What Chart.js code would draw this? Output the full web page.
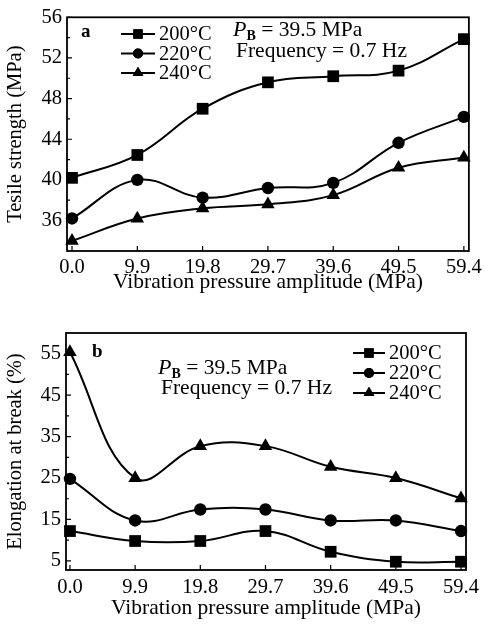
<!DOCTYPE html>
<html>
<head>
<meta charset="utf-8">
<script src="https://cdn.jsdelivr.net/npm/chart.js@4.4.1/dist/chart.umd.min.js"></script>
<style>
  html, body { margin: 0; padding: 0; background: #fff; }
  #wrap { position: relative; width: 486px; height: 624px; overflow: hidden; }
  canvas { position: absolute; left: 0; }
  #c1 { top: 0; }
  #c2 { top: 300px; }
</style>
</head>
<body>
<div id="wrap">
  <canvas id="c1" width="486" height="300"></canvas>
  <canvas id="c2" width="486" height="324"></canvas>
</div>
<script>
// ---- data ----
const xValues = [0, 9.9, 19.8, 29.7, 39.6, 49.5, 59.4];
const seriesNames = ['200°C', '220°C', '240°C'];
const tensile200 = [40.2, 42.45, 47.0, 49.6, 50.2, 50.75, 53.85];
const tensile220 = [36.2, 40.0, 38.25, 39.2, 39.7, 43.65, 46.2];
const tensile240 = [34.0, 36.2, 37.2, 37.6, 38.5, 41.2, 42.2];
const elong200 = [12.2, 9.8, 9.8, 12.2, 7.2, 4.8, 4.8];
const elong220 = [24.8, 14.75, 17.4, 17.4, 14.75, 14.75, 12.2];
const elong240 = [55.4, 25.0, 32.7, 32.7, 27.7, 25.0, 20.1];
const tensileTicks = [36, 40, 44, 48, 52, 56];
const tensileMinor = [34, 38, 42, 46, 50, 54];
const elongTicks = [5, 15, 25, 35, 45, 55];
const elongMinor = [10, 20, 30, 40, 50];

const FONT = '"Liberation Serif", "Times New Roman", serif';
const styles = ['rect', 'circle', 'triangle'];
const radii = [8.3, 6.2, 7.8];

function makeDatasets(arrs) {
  return arrs.map((arr, i) => ({
    label: seriesNames[i],
    data: xValues.map((x, j) => ({ x: x, y: arr[j] })),
    borderColor: '#000',
    backgroundColor: '#000',
    borderWidth: 2,
    pointStyle: styles[i],
    pointRadius: radii[i],
    pointBorderWidth: 0,
    tension: 0.4,
    clip: false
  }));
}

const decorPlugin = {
  id: 'decor',
  afterDraw(chart, args, opts) {
    const ctx = chart.ctx;
    const a = chart.chartArea;
    const xs = chart.scales.x, ys = chart.scales.y;
    ctx.save();
    ctx.strokeStyle = '#000';
    ctx.fillStyle = '#000';
    // frame
    ctx.lineWidth = 1.8;
    ctx.strokeRect(a.left, a.top, a.right - a.left, a.bottom - a.top);
    // inward ticks
    ctx.lineWidth = 1.2;
    ctx.beginPath();
    xs.ticks.forEach(t => {
      const px = xs.getPixelForValue(t.value);
      ctx.moveTo(px, a.bottom); ctx.lineTo(px, a.bottom - 5);
    });
    ys.ticks.forEach(t => {
      const py = ys.getPixelForValue(t.value);
      ctx.moveTo(a.left, py); ctx.lineTo(a.left + 5, py);
    });
    (opts.minor || []).forEach(v => {
      const py = ys.getPixelForValue(v);
      ctx.moveTo(a.left, py); ctx.lineTo(a.left + 3, py);
    });
    ctx.stroke();

    // panel letter
    ctx.textBaseline = 'middle';
    ctx.textAlign = 'left';
    ctx.font = 'bold 19px ' + FONT;
    ctx.fillText(opts.letter.text, opts.letter.x, opts.letter.y);

    // P_B and frequency
    const p = opts.pb;
    let x = p.x;
    ctx.font = 'italic 22px ' + FONT;
    ctx.fillText('P', x, p.y);
    x += ctx.measureText('P').width;
    ctx.font = 'bold 14px ' + FONT;
    ctx.fillText('B', x, p.y + 6);
    x += ctx.measureText('B').width;
    ctx.font = '21.5px ' + FONT;
    ctx.fillText(' = 39.5 MPa', x, p.y);
    ctx.fillText('Frequency = 0.7 Hz', p.x + 3, p.y + p.gap);

    // legend
    const L = opts.legend;
    chart.data.datasets.forEach((ds, i) => {
      const y = L.y + i * L.gap;
      ctx.lineWidth = 2;
      ctx.beginPath();
      ctx.moveTo(L.x, y); ctx.lineTo(L.x + L.len, y);
      ctx.stroke();
      Chart.helpers.drawPoint(ctx, { pointStyle: ds.pointStyle, radius: ds.pointRadius * 0.8, borderWidth: 0 },
        L.x + L.len / 2, y);
      ctx.fill();
      ctx.font = '20.5px ' + FONT;
      ctx.fillText(ds.label, L.x + L.len + 4, y + 1);
    });
    ctx.restore();
  }
};

function makeChart(id, arrs, yMin, yMax, yTicks, yTitle, xMin, xMax, sizes, notes) {
  return new Chart(document.getElementById(id), {
    type: 'line',
    data: { datasets: makeDatasets(arrs) },
    options: {
      responsive: false,
      animation: false,
      devicePixelRatio: 1,
      layout: { padding: { top: sizes.top, right: sizes.right, left: 0, bottom: 0 } },
      plugins: { legend: { display: false }, tooltip: { enabled: false }, decor: notes },
      scales: {
        x: {
          type: 'linear', min: xMin, max: xMax,
          afterBuildTicks: s => { s.ticks = xValues.map(v => ({ value: v })); },
          afterFit: s => { s.height = sizes.xh; },
          grid: { display: false, drawTicks: false },
          border: { display: false },
          ticks: { color: '#000', padding: sizes.xpad, maxRotation: 0, autoSkip: false,
                   font: { family: FONT, size: 20.5 }, callback: v => Number(v).toFixed(1) },
          title: { display: true, text: 'Vibration pressure amplitude (MPa)', color: '#000',
                   font: { family: FONT, size: 21.5 }, padding: { top: 0, bottom: sizes.xtp } }
        },
        y: {
          type: 'linear', min: yMin, max: yMax,
          afterBuildTicks: s => { s.ticks = yTicks.map(v => ({ value: v })); },
          afterFit: s => { s.width = sizes.yw; },
          grid: { display: false, drawTicks: false },
          border: { display: false },
          ticks: { color: '#000', padding: 5, autoSkip: false, font: { family: FONT, size: 20.5 } },
          title: { display: true, text: yTitle, color: '#000',
                   font: { family: FONT, size: 20.5 }, padding: { top: sizes.ytp, bottom: 0 } }
        }
      }
    },
    plugins: [decorPlugin]
  });
}

makeChart('c1', [tensile200, tensile220, tensile240], 33, 56, tensileTicks, 'Tesile strength (MPa)',
  -0.76, 60.16,
  { top: 13, right: 16, xh: 49, yw: 67, xpad: 4, xtp: 5, ytp: 3 },
  { minor: tensileMinor,
    letter: { text: 'a', x: 81, y: 32 },
    pb: { x: 233, y: 30, gap: 21 },
    legend: { x: 121, y: 34, gap: 19.5, len: 34 } });

makeChart('c2', [elong200, elong220, elong240], 2.8, 60, elongTicks, 'Elongation at break (%)',
  -0.6, 60.16,
  { top: 33, right: 20, xh: 54, yw: 66, xpad: 5, xtp: 3, ytp: 3 },
  { minor: elongMinor,
    letter: { text: 'b', x: 92, y: 52 },
    pb: { x: 158, y: 68, gap: 20 },
    legend: { x: 353, y: 53, gap: 20, len: 32 } });
</script>
</body>
</html>
